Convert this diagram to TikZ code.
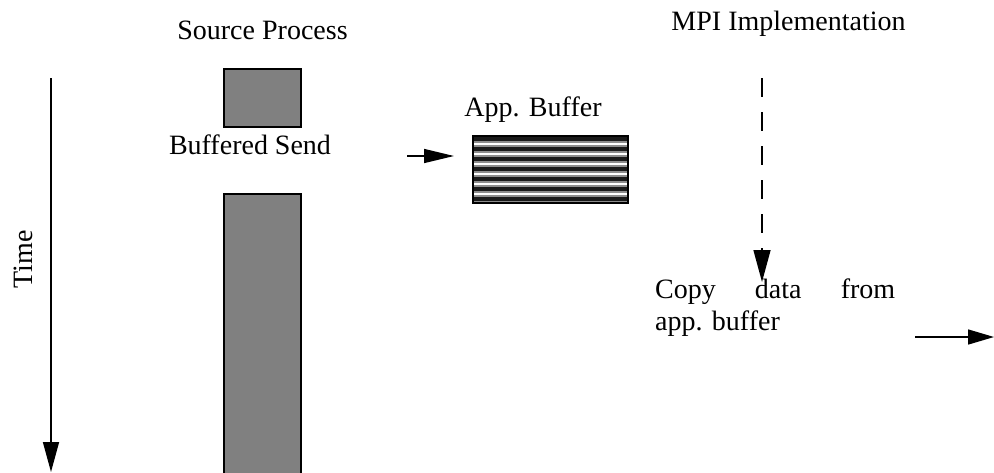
\documentclass[tikz,border=0pt]{standalone}
\usepackage{fontspec}
\setmainfont{Liberation Serif}
\usetikzlibrary{arrows.meta}
\tikzset{
  lbl/.style={anchor=base, inner sep=0pt, font=\fontsize{28}{33}\selectfont},
  procbox/.style={draw=black, line width=1.2pt, fill={rgb,255:red,128;green,128;blue,128}},
  conn/.style={line width=1.5pt, -{Triangle[length=30pt, width=15pt]}},
}
\begin{document}
\begin{tikzpicture}[x=1pt, y=-1pt]
\useasboundingbox (0,0) rectangle (994,472);
% titles
\node[lbl] (src) at (262.5,39) {Source Process};
\node[lbl] (mpi) at (788.5,30) {MPI Implementation};
% time axis
\coordinate (t0) at (51,78);
\coordinate (t1) at (51,472);
\draw[conn, -{Triangle[length=30pt, width=16pt]}] (t0) -- (t1);
\node[lbl, rotate=90] (time) at (32,259.5) {Time};
% process boxes
\node[procbox, inner sep=0pt, minimum width=77pt, minimum height=58pt] (small) at (262.5,98) {};
\node[lbl] (bsend) at (250,154) {Buffered Send};
\path[procbox] (224,194) rectangle (301,475);
% app buffer
\node[lbl] (appbuf) at (533,116) {App. Buffer};
\fill[white] (473,136) rectangle (628,203);
\foreach \k in {0,...,6}{
  \fill[black!45] (473,{134.5+10*\k}) rectangle (628,{142.5+10*\k});
  \fill[black!90] (473,{136.5+10*\k}) rectangle (628,{140.5+10*\k});
}
\node[draw=black, line width=1.5pt, inner sep=0pt, minimum width=155pt, minimum height=67pt] (buf) at (550.5,169.5) {};
\coordinate (a0) at (407,156);
\coordinate (a1) at (454,156);
\draw[conn, -{Triangle[length=30pt, width=14pt]}] (a0) -- (a1);
% dashed line to copy
\coordinate (d0) at (762,78);
\coordinate (d1) at (762,282);
\draw[conn, -{Triangle[length=32pt, width=17pt]}, dash pattern=on 19pt off 15pt] (d0) -- (d1);
% copy text
\node[lbl, anchor=base west] (copy1) at (655,298) {\makebox[240pt][s]{Copy\hfill data\hfill from}};
\node[lbl, anchor=base west] (copy2) at (655,330) {app. buffer};
\coordinate (r0) at (915,337);
\coordinate (r1) at (994,337);
\draw[conn, -{Triangle[length=26pt, width=15pt]}] (r0) -- (r1);
\end{tikzpicture}
\end{document}
